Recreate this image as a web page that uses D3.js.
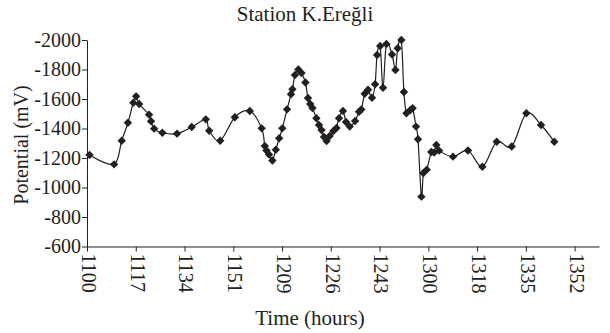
<!DOCTYPE html>
<html><head><meta charset="utf-8">
<script src="https://cdn.jsdelivr.net/npm/d3@7"></script>
<style>body{margin:0;background:#fff}svg{display:block}text{font-family:"Liberation Serif","Times New Roman",serif;fill:#231f20}</style>
</head><body>
<script>
// minutes after 11:00
const minutes = [0.9,9.6,12.3,14.5,16.4,17.4,18.5,22.0,22.7,23.8,26.7,31.9,37.1,42.1,43.3,47.2,52.4,57.7,61.9,63.0,63.6,64.5,65.7,66.9,68.1,69.2,70.9,72.3,72.8,73.7,74.9,76.0,77.4,78.3,79.1,79.9,81.3,82.2,83.1,84.0,84.9,86.0,87.3,88.4,89.3,90.7,91.8,93.1,95.0,96.4,97.2,98.4,99.6,101.0,102.1,102.8,103.9,104.9,106.1,108.1,109.3,110.1,111.4,112.3,113.2,114.6,115.4,116.6,117.3,118.5,119.2,120.4,122.0,123.0,123.8,124.8,129.7,135.0,140.1,145.2,150.5,155.7,160.9,165.6];
const potential = [-1220,-1157,-1317,-1439,-1575,-1618,-1566,-1494,-1449,-1399,-1371,-1365,-1410,-1462,-1385,-1317,-1476,-1519,-1401,-1281,-1251,-1224,-1183,-1256,-1334,-1401,-1530,-1632,-1666,-1763,-1800,-1776,-1712,-1607,-1566,-1539,-1469,-1424,-1390,-1342,-1315,-1349,-1383,-1403,-1469,-1519,-1444,-1414,-1451,-1514,-1529,-1636,-1663,-1608,-1700,-1898,-1959,-1676,-1973,-1902,-1797,-1944,-2000,-1647,-1503,-1525,-1537,-1413,-1327,-938,-1098,-1121,-1241,-1237,-1288,-1250,-1209,-1251,-1141,-1310,-1278,-1503,-1424,-1310];
const xTickValues = [0,17.28,34.56,51.84,69.12,86.4,103.68,120.96,138.24,155.52,172.8];
const xTickLabels = ["1100","1117","1134","1151","1209","1226","1243","1300","1318","1335","1352"];
const yTickValues = [-600,-800,-1000,-1200,-1400,-1600,-1800,-2000];

const W=610,H=333, L=87, R=599, T=40, B=246.5;
const svg=d3.select("body").append("svg").attr("width",W).attr("height",H);
const x=d3.scaleLinear().domain([0,181.44]).range([L,R]);
const y=d3.scaleLinear().domain([-600,-2000]).range([B,T]);

svg.append("text").attr("x",305).attr("y",21).attr("text-anchor","middle").style("font-size","21px").text("Station K.Ereğli");

const ya=svg.append("g").attr("transform",`translate(${L},0)`)
 .call(d3.axisLeft(y).tickValues(yTickValues).tickFormat(d=>String(d)).tickSize(5).tickPadding(1).tickSizeOuter(0));
ya.select(".domain").attr("stroke","#231f20");
ya.selectAll("line").attr("stroke","#231f20");
ya.selectAll("text").style("font-size","20px").style("font-family","Liberation Serif").attr("fill","#231f20");

const xa=svg.append("g").attr("transform",`translate(0,${B})`)
 .call(d3.axisBottom(x).tickValues(xTickValues).tickFormat((d,i)=>xTickLabels[i]).tickSize(5).tickSizeOuter(0));
xa.select(".domain").attr("stroke","#231f20");
xa.selectAll("line").attr("stroke","#231f20");
xa.selectAll("text").style("font-size","20px").style("font-family","Liberation Serif").attr("fill","#231f20")
 .attr("text-anchor","start").attr("dy","0.33em").attr("y",0)
 .attr("transform","translate(1,7) rotate(90)");

svg.append("text").attr("transform","translate(28,145) rotate(-90)").attr("text-anchor","middle").style("font-size","20px").text("Potential (mV)");
svg.append("text").attr("x",310).attr("y",325).attr("text-anchor","middle").style("font-size","21px").text("Time (hours)");

const data=minutes.map((m,i)=>[m,potential[i]]);
svg.append("path").datum(data).attr("fill","none").attr("stroke","#231f20").attr("stroke-width",1.2)
 .attr("d",d3.line().x(d=>x(d[0])).y(d=>y(d[1])).curve(d3.curveCardinal.tension(0)));
svg.append("g").selectAll("path").data(data).join("path")
 .attr("transform",d=>`translate(${x(d[0])},${y(d[1])})`)
 .attr("d","M0,-4.2L4.2,0L0,4.2L-4.2,0Z").attr("fill","#231f20");
</script>
</body></html>
